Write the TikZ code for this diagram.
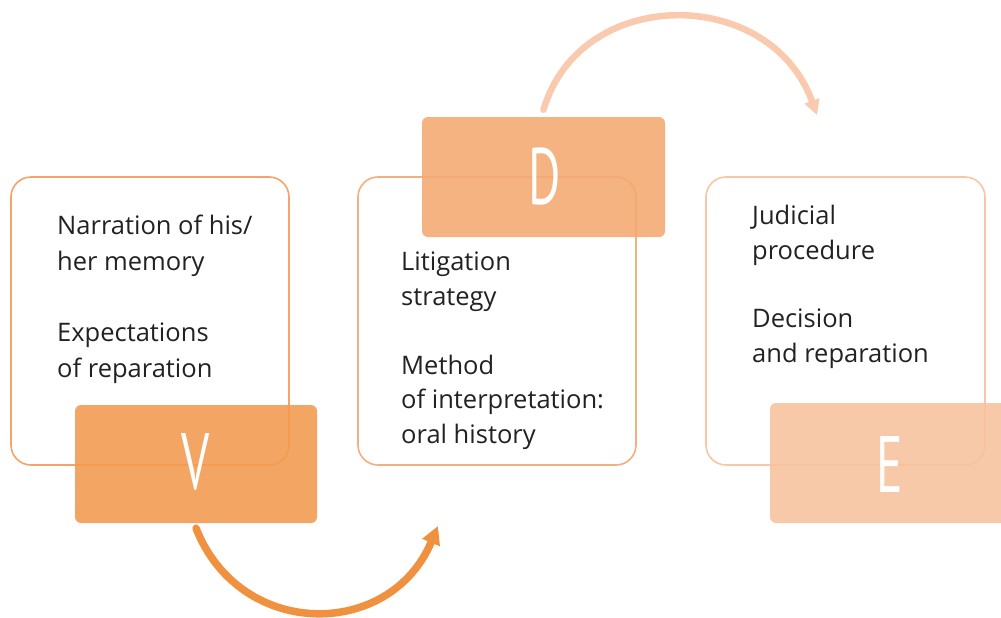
\documentclass[tikz,border=0pt]{standalone}
\usepackage{fontspec}
\setmainfont{Open Sans}
\newfontfamily\letterfont{PT Sans}
\usetikzlibrary{arrows.meta}
\definecolor{vcol}{HTML}{F29A4E}
\definecolor{dcol}{HTML}{F3A96F}
\definecolor{ecol}{HTML}{F7C29D}
\definecolor{outA}{HTML}{F4A46A}
\definecolor{outB}{HTML}{F4AE80}
\definecolor{outC}{HTML}{F8C6A6}
\definecolor{arrA}{HTML}{F0913F}
\definecolor{arrB}{HTML}{F9CAAD}
\definecolor{txt}{HTML}{222222}
\tikzset{
  outbox/.style={draw, line width=1.6pt, rounded corners=20pt, fill=white, minimum width=#1, minimum height=288pt, inner sep=0pt},
  letterbox/.style={rounded corners=6pt, inner sep=0pt, fill opacity=0.88, text opacity=1, text=white},
  bodytext/.style={anchor=north west, align=left, text=txt, inner sep=0pt},
  bigletter/.style={font=\letterfont\fontsize{80}{80}\selectfont},
  curvearrow/.style={-{Triangle[length=#1, width=#1]}, line cap=round}
}
\begin{document}
\begin{tikzpicture}[x=1pt,y=-1pt]
\useasboundingbox (0,0) rectangle (1001,618);
\fill[white] (0,0) rectangle (1001,618);
% outline boxes
\node[outbox=278pt, draw=outA] (b1) at (150,321) {};
\node[outbox=278pt, draw=outB] (b2) at (497,321) {};
\node[outbox=279pt, draw=outC] (b3) at (845.5,321) {};
% texts
\node[bodytext, font=\fontsize{25.5}{36}\selectfont] (t1) at (57,215) {Narration of his/\\her memory\\[35pt]Expectations\\of reparation};
\node[bodytext, font=\fontsize{25.5}{34.5}\selectfont] (t2) at (401,252) {Litigation\\strategy\\[34.5pt]Method\\of interpretation:\\oral history};
\node[bodytext, font=\fontsize{25.5}{34.5}\selectfont] (t3) at (752,205) {Judicial\\procedure\\[34pt]Decision\\and reparation};
% letter boxes
\node[letterbox, fill=vcol, minimum width=242pt, minimum height=118pt] (V) at (196,464) {};
\node[letterbox, fill=dcol, minimum width=243pt, minimum height=120pt] (D) at (543.5,177) {};
\node[letterbox, fill=ecol, minimum width=240pt, minimum height=120pt] (E) at (890,463) {};
\node[bigletter, text=white] (Vl) at (196,462) {\scalebox{0.62}[1]{V}};
\node[bigletter, text=white] (Dl) at (545,177) {\scalebox{0.62}[1]{D}};
\node[bigletter, text=white] (El) at (890,464) {\scalebox{0.62}[1]{E}};
% arrows
\coordinate (a1end) at (438,526);
\coordinate (a2end) at (817,115);
\draw[arrA, line width=7.5pt, curvearrow=18pt] ([yshift=-5pt]V.south) .. controls (240,640) and (390,640) .. (a1end);
\draw[arrB, line width=6.5pt, curvearrow=15pt] ([yshift=7pt]D.north) .. controls (580,-15) and (770,-15) .. (a2end);
\end{tikzpicture}
\end{document}
